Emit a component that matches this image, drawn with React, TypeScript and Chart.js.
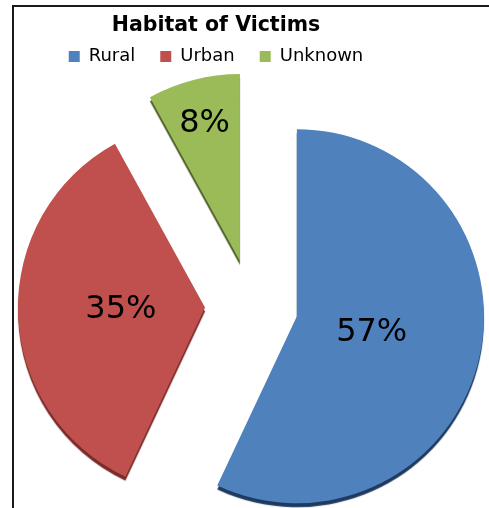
import React, { useEffect, useRef } from 'react';
import { Chart, registerables, layouts, ArcElement } from 'chart.js';

Chart.register(...registerables);

// ---- data ----
const categories = ['Rural', 'Urban', 'Unknown'];
const shares = [57, 35, 8];
const titleText = 'Habitat of Victims';

// ---- styles ----
const sliceColors = ['#4F81BD', '#C0504D', '#9BBB59'];
const edgeColors = ['#1F3A5F', '#7A2B29', '#4F6228'];
const EXPLODE = 46.5;
const LABEL_RADIUS = [0.41, 0.45, 0.76];
const FONT = 'DejaVu Sans';

// invisible layout box used to position the chart area
function spacer(id: string, position: 'left' | 'top', size: number) {
  return {
    id,
    beforeInit(chart: any) {
      const box: any = {
        position,
        weight: 0,
        fullSize: false,
        options: {},
        left: 0, top: 0, right: 0, bottom: 0, width: 0, height: 0,
        isHorizontal() { return position === 'top'; },
        update(maxWidth: number, maxHeight: number) {
          if (position === 'top') { this.width = maxWidth; this.height = size; }
          else { this.width = size; this.height = maxHeight; }
        },
        draw() {},
      };
      layouts.addBox(chart, box);
    },
  };
}

const explodePlugin = {
  id: 'explodeSlices',
  afterDatasetsUpdate(chart: any) {
    const meta = chart.getDatasetMeta(0);
    meta.data.forEach((el: any, i: number) => {
      const mid = (el.startAngle + el.endAngle) / 2;
      el.x += Math.cos(mid) * EXPLODE;
      el.y += Math.sin(mid) * EXPLODE;
      if (!el.__edge) {
        el.__edge = true;
        el.draw = function (ctx: CanvasRenderingContext2D) {
          ctx.save();
          ctx.shadowColor = edgeColors[i];
          ctx.shadowOffsetX = 0;
          ctx.shadowOffsetY = 4;
          ctx.shadowBlur = 1;
          (ArcElement.prototype as any).draw.call(this, ctx);
          ctx.restore();
        };
      }
    });
  },
};

const labelPlugin = {
  id: 'sliceLabels',
  afterDatasetsDraw(chart: any) {
    const ctx = chart.ctx as CanvasRenderingContext2D;
    const meta = chart.getDatasetMeta(0);
    const data = chart.data.datasets[0].data as number[];
    const total = data.reduce((a, b) => a + b, 0);
    ctx.save();
    ctx.font = `32px "${FONT}"`;
    ctx.fillStyle = '#000';
    ctx.textAlign = 'center';
    ctx.textBaseline = 'middle';
    meta.data.forEach((el: any, i: number) => {
      const mid = (el.startAngle + el.endAngle) / 2;
      const r = el.outerRadius * LABEL_RADIUS[i];
      ctx.fillText(
        `${Math.round((data[i] / total) * 100)}%`,
        el.x + Math.cos(mid) * r,
        el.y + Math.sin(mid) * r
      );
    });
    ctx.restore();
  },
};

export default function App() {
  const ref = useRef<HTMLCanvasElement>(null);

  useEffect(() => {
    if (!ref.current) return;
    const chart = new Chart(ref.current, {
      type: 'pie',
      data: {
        labels: categories,
        datasets: [
          {
            data: shares,
            backgroundColor: sliceColors,
            borderWidth: 0,
            radius: 187,
          } as any,
        ],
      },
      options: {
        responsive: false,
        animation: false,
        layout: { padding: { left: 0, right: 57, top: 0, bottom: 0 } },
        plugins: {
          title: {
            display: true,
            text: titleText,
            color: '#000',
            font: { family: FONT, size: 20.5, weight: 'bold', lineHeight: 1.2 },
            padding: { top: 13, bottom: -15 },
          },
          legend: {
            display: true,
            position: 'top',
            labels: {
              color: '#000',
              font: { family: FONT, size: 18 },
              boxWidth: 11,
              boxHeight: 11,
              padding: 25,
            },
          },
          tooltip: { enabled: false },
        },
      } as any,
      plugins: [spacer('leftSpacer', 'left', 71), spacer('topSpacer', 'top', 28.5), explodePlugin, labelPlugin],
    });
    return () => chart.destroy();
  }, []);

  return (
    <div style={{ position: 'fixed', left: 0, top: 0, width: 489, height: 508, background: '#fff', overflow: 'hidden' }}>
      <div
        style={{
          position: 'absolute', left: 12, top: 5, width: 490, height: 520,
          borderLeft: '2px solid #1a1a1a', borderTop: '2px solid #1a1a1a',
        }}
      />
      <canvas
        ref={ref}
        width={489}
        height={508}
        style={{ position: 'absolute', left: 0, top: 0, width: 489, height: 508 }}
      />
    </div>
  );
}
